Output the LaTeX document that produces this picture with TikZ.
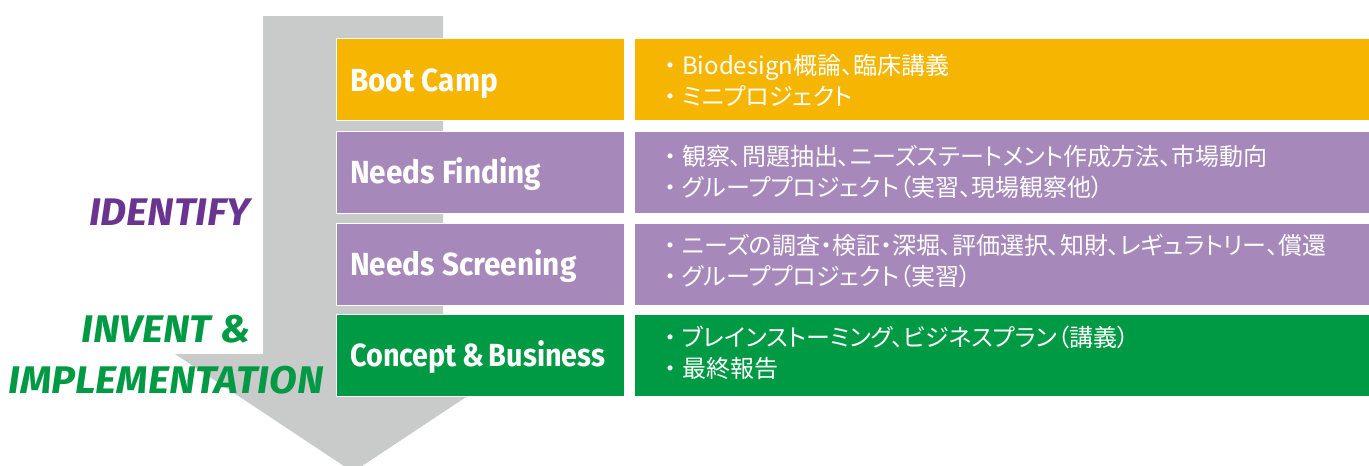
\documentclass[tikz,border=0pt]{standalone}
\usepackage{fontspec}
\newfontfamily\labfont{Fira Sans}[FakeStretch=0.93]
\newfontfamily\labnarrow{Fira Sans}[FakeStretch=0.90]
\newfontfamily\phasefont{Fira Sans}[FakeStretch=1.05]
\newfontfamily\jpfont{Noto Sans CJK JP}[RawFeature=+palt]
\newfontfamily\jpbullet{Noto Sans CJK JP}
\newcommand{\bul}{{\jpbullet ・}}
\definecolor{cOrange}{RGB}{245,181,0}
\definecolor{cPurple}{RGB}{166,136,186}
\definecolor{cGreen}{RGB}{0,154,68}
\definecolor{cGray}{RGB}{201,202,202}
\definecolor{cPhaseP}{RGB}{106,53,145}
\definecolor{cPhaseG}{RGB}{0,153,68}
\tikzset{
  leftbox/.style={draw=white, line width=1.5pt, minimum width=288pt, minimum height=82pt, inner sep=0pt, anchor=north west},
  rightbox/.style={draw=white, line width=1.5pt, minimum width=740pt, minimum height=82pt, inner sep=0pt, anchor=north west},
  boxlabel/.style={anchor=base west, inner sep=0pt, text=white, font=\labfont\bfseries\fontsize{32}{36}\selectfont},
  desc/.style={anchor=west, inner sep=0pt, text=white, align=left, font=\jpfont\fontsize{24}{31}\selectfont},
  phase/.style={anchor=base, inner sep=0pt, font=\phasefont\bfseries\itshape\fontsize{38.5}{40}\selectfont},
}
\begin{document}
\begin{tikzpicture}[x=1pt,y=-1pt]
\useasboundingbox (0,0) rectangle (1369,466);
\clip (0,0) rectangle (1369,466);
% big arrow
\fill[cGray] (263,16) -- (443,16) -- (443,354) -- (531,354) -- (353,472) -- (175,354) -- (263,354) -- cycle;
% boxes
\node[leftbox, fill=cOrange] (b1) at (335.5,37.5) {};
\node[leftbox, fill=cPurple] (b2) at (335.5,130.5) {};
\node[leftbox, fill=cPurple] (b3) at (335.5,222.5) {};
\node[leftbox, fill=cGreen] (b4) at (335.5,313.5) {};
\node[rightbox, fill=cOrange] (r1) at (633.5,37.5) {};
\node[rightbox, fill=cPurple] (r2) at (633.5,130.5) {};
\node[rightbox, fill=cPurple] (r3) at (633.5,222.5) {};
\node[rightbox, fill=cGreen] (r4) at (633.5,313.5) {};
% box labels
\node[boxlabel] (l1) at (350,91) {Boot Camp};
\node[boxlabel] (l2) at (350,183.5) {Needs Finding};
\node[boxlabel] (l3) at (350,275.5) {Needs Screening};
\node[boxlabel, font=\labnarrow\bfseries\fontsize{32}{36}\selectfont] (l4) at (350,366) {Concept\hspace{5pt}\&\hspace{5pt}Business};
% descriptions
\node[desc] (d1) at (658,80) {\bul Biodesign概論、臨床講義\\\bul ミニプロジェクト};
\node[desc] (d2) at (658,172) {\bul 観察、問題抽出、ニーズステートメント作成方法、市場動向\\\bul グループプロジェクト（実習、現場観察他）};
\node[desc] (d3) at (658,261) {\bul ニーズの調査・検証・深堀、評価選択、知財、レギュラトリー、償還\\\bul グループプロジェクト（実習）};
\node[desc] (d4) at (658,353) {\bul ブレインストーミング、ビジネスプラン（講義）\\\bul 最終報告};
% phases
\node[phase, text=cPhaseP] (p1) at (169.5,225) {IDENTIFY};
\node[phase, text=cPhaseG] (p2) at (166,342) {INVENT \&};
\node[phase, text=cPhaseG] (p3) at (166,393) {IMPLEMENTATION};
\end{tikzpicture}
\end{document}
